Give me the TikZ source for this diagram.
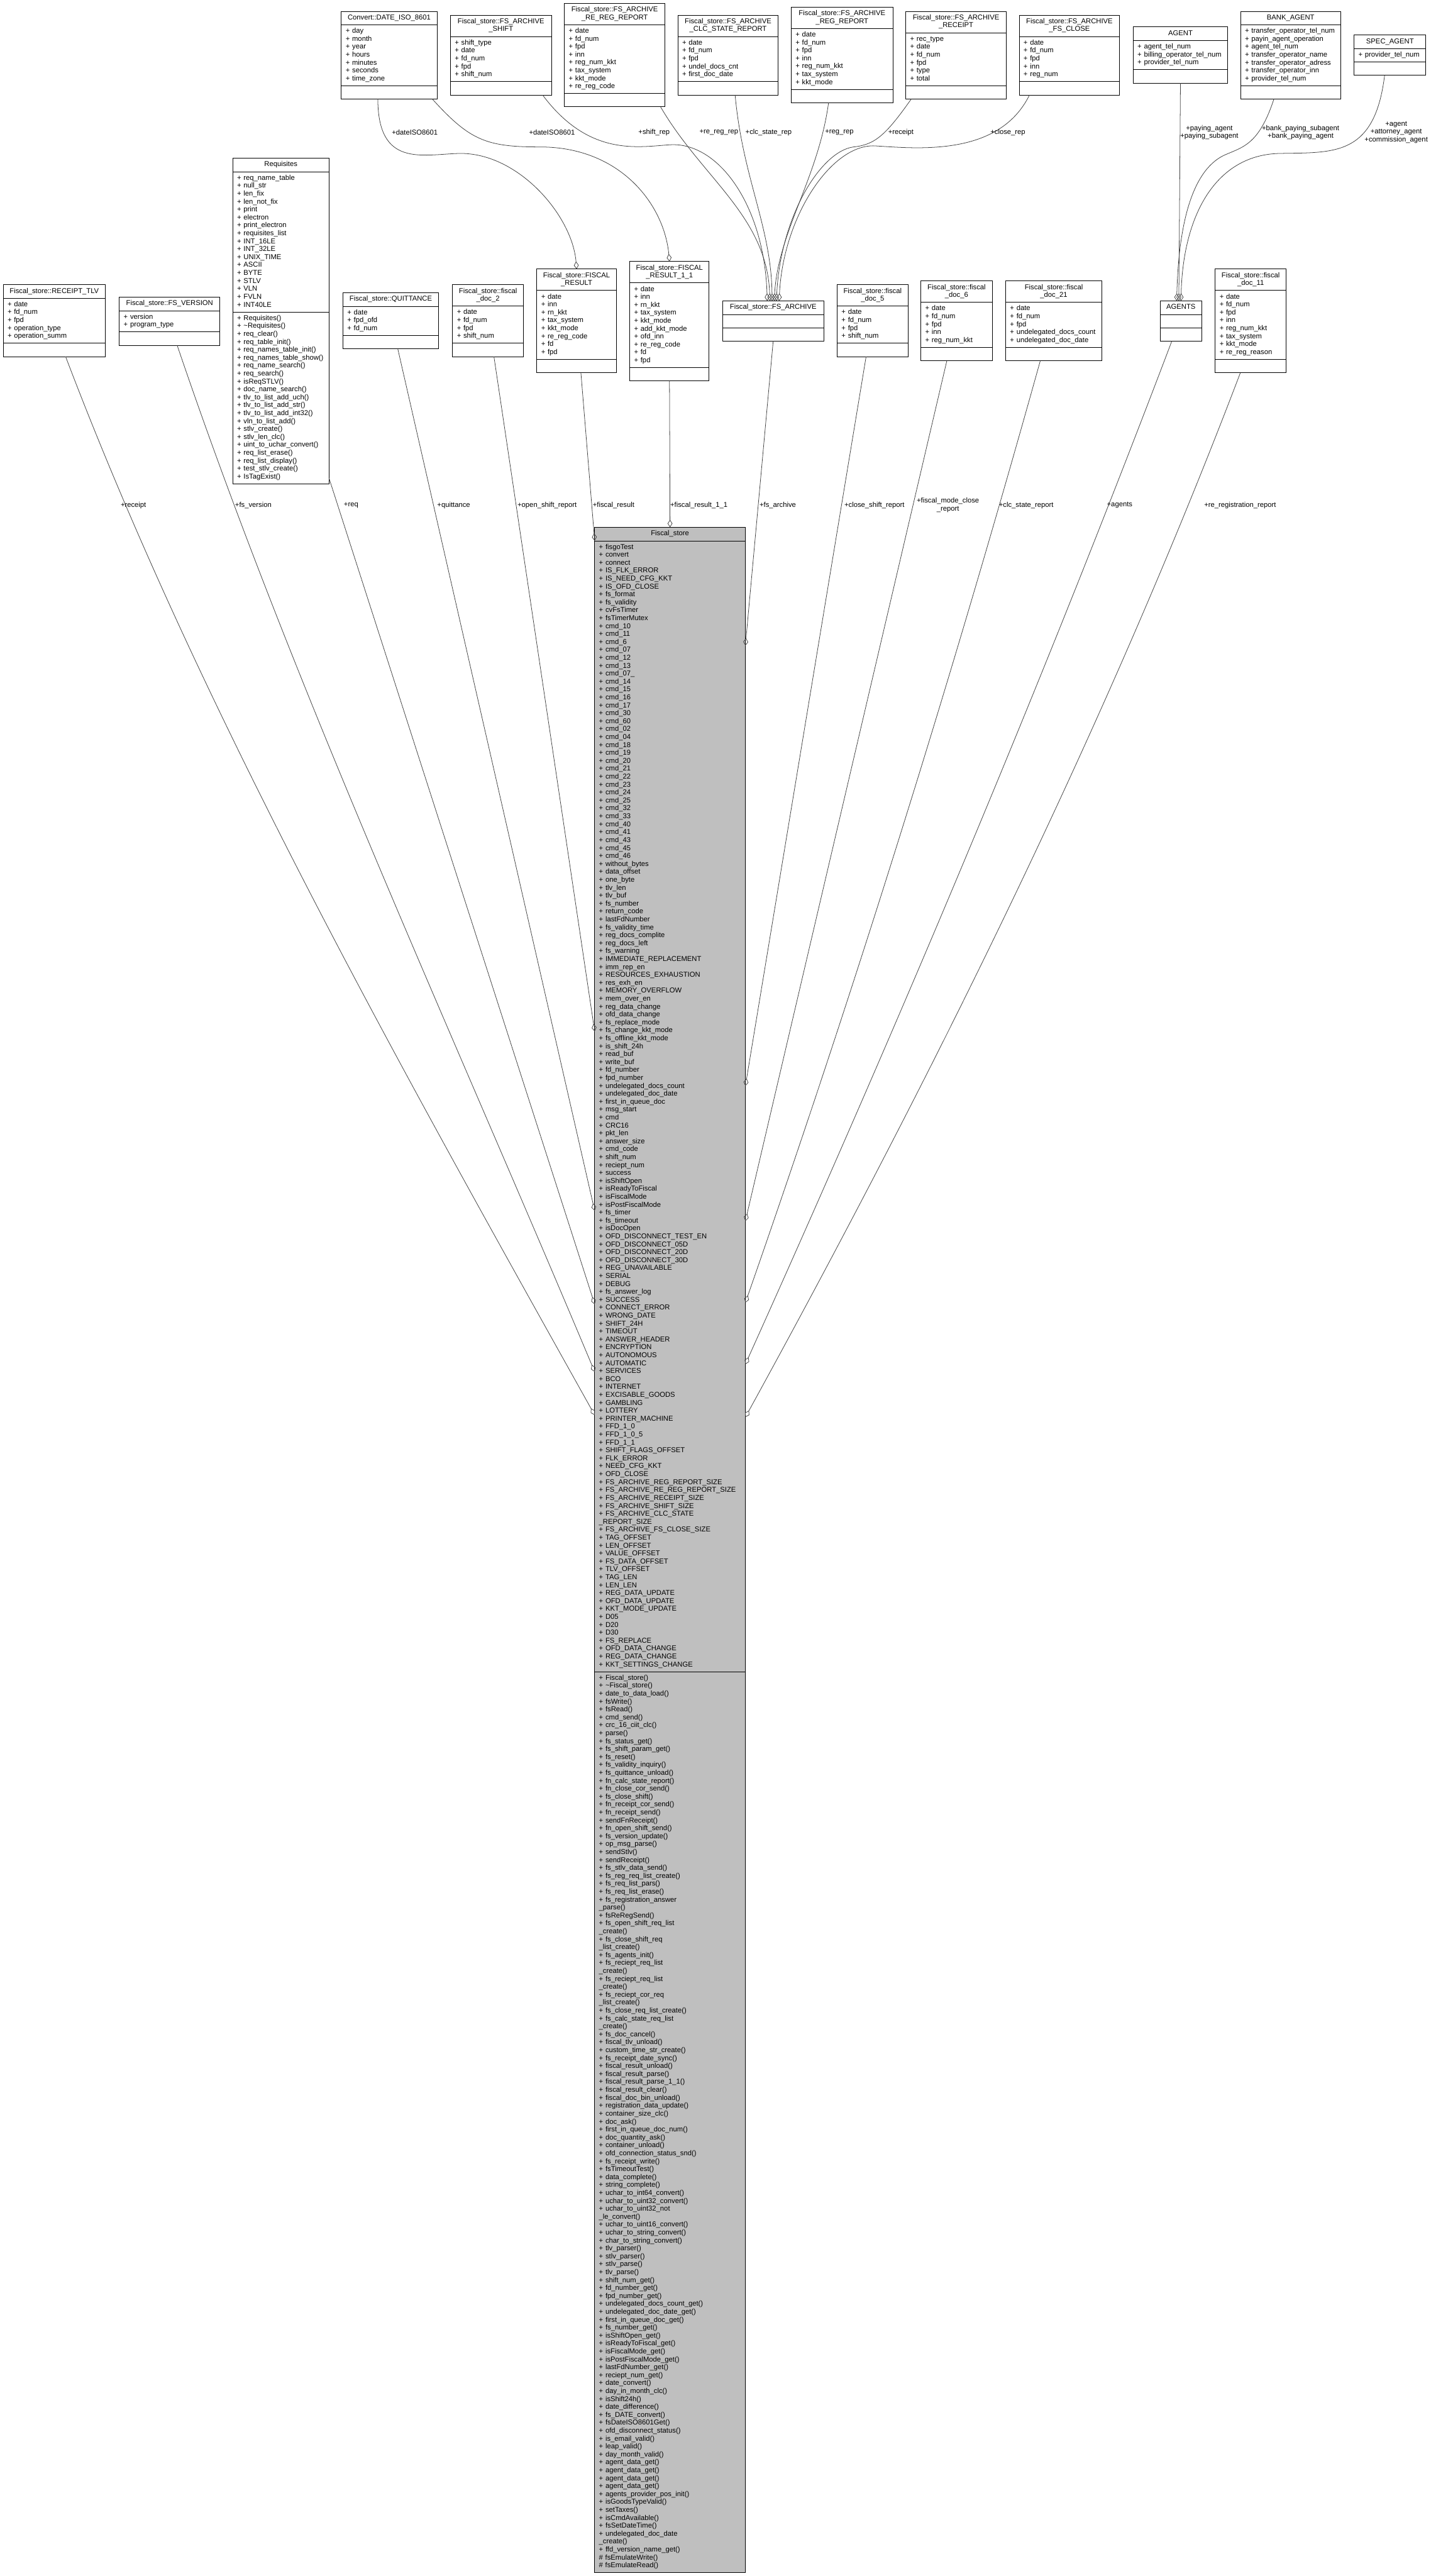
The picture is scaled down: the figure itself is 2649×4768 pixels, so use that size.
\documentclass[tikz,border=0pt]{standalone}
\usepackage{fontspec}
\setmainfont{Liberation Sans}
\usetikzlibrary{arrows.meta,positioning}
\newcommand\umlfont{\fontsize{13.1}{14.67}\selectfont}
\tikzset{
  umlpart/.style={draw=black,line width=1.1pt,outer sep=0pt,inner xsep=8pt,inner ysep=5pt,
    font=\umlfont,align=left,
    execute at begin node={\hyphenpenalty=10000\exhyphenpenalty=10000\strut},
    execute at end node=\strut},
  umltitle/.style={umlpart,align=center,inner ysep=5.2pt},
  agg/.style={-{Diamond[open,length=14pt,width=9pt]},draw=black!75,line width=0.9pt},
  rel/.style={font=\umlfont,align=center,inner sep=0pt},
}
% class box: title, attributes, methods stacked
\newcommand\umlbox[7][]{%
  \pgfmathsetmacro\umlw{#4-16}%
  \node[umltitle,#1,text width=\umlw pt,anchor=north west] (#2) at (#3) {#5};
  \node[umlpart,#1,text width=\umlw pt,below=0pt of #2] (#2-a) {#6};
  \node[umlpart,#1,text width=\umlw pt,below=0pt of #2-a] (#2-m) {#7};
}

\begin{document}
\catcode`\_=12
\begin{tikzpicture}[x=1pt,y=-1pt]
  \useasboundingbox (0,0) rectangle (2649,4768);
  % top row
  \umlbox{datecv}{632,21}{177}{Convert::DATE_ISO_8601}{+ day\\+ month\\+ year\\+ hours\\+ minutes\\+ seconds\\+ time_zone}{}
  \umlbox{arshift}{834,28}{187}{Fiscal_store::FS_ARCHIVE\\_SHIFT}{+ shift_type\\+ date\\+ fd_num\\+ fpd\\+ shift_num}{}
  \umlbox{arrereg}{1045,6}{186}{Fiscal_store::FS_ARCHIVE\\_RE_REG_REPORT}{+ date\\+ fd_num\\+ fpd\\+ inn\\+ reg_num_kkt\\+ tax_system\\+ kkt_mode\\+ re_reg_code}{}
  \umlbox{arclc}{1255,28}{186}{Fiscal_store::FS_ARCHIVE\\_CLC_STATE_REPORT}{+ date\\+ fd_num\\+ fpd\\+ undel_docs_cnt\\+ first_doc_date}{}
  \umlbox{arreg}{1465,13}{188}{Fiscal_store::FS_ARCHIVE\\_REG_REPORT}{+ date\\+ fd_num\\+ fpd\\+ inn\\+ reg_num_kkt\\+ tax_system\\+ kkt_mode}{}
  \umlbox{arreceipt}{1677,21}{186}{Fiscal_store::FS_ARCHIVE\\_RECEIPT}{+ rec_type\\+ date\\+ fd_num\\+ fpd\\+ type\\+ total}{}
  \umlbox{arclose}{1887,28}{186}{Fiscal_store::FS_ARCHIVE\\_FS_CLOSE}{+ date\\+ fd_num\\+ fpd\\+ inn\\+ reg_num}{}
  \umlbox{agent}{2098,50}{175}{AGENT}{+ agent_tel_num\\+ billing_operator_tel_num\\+ provider_tel_num}{}
  \umlbox{bankagent}{2297,21}{185}{BANK_AGENT}{+ transfer_operator_tel_num\\+ payin_agent_operation\\+ agent_tel_num\\+ transfer_operator_name\\+ transfer_operator_adress\\+ transfer_operator_inn\\+ provider_tel_num}{}
  \umlbox{specagent}{2507,65}{133}{SPEC_AGENT}{+ provider_tel_num}{}
  % middle row
  \umlbox{receipttlv}{6,527}{189}{Fiscal_store::RECEIPT_TLV}{+ date\\+ fd_num\\+ fpd\\+ operation_type\\+ operation_summ}{}
  \umlbox{fsversion}{221,550}{186}{Fiscal_store::FS_VERSION}{+ version\\+ program_type}{}
  \umlbox{requisites}{431,293}{178}{Requisites}{+ req_name_table\\+ null_str\\+ len_fix\\+ len_not_fix\\+ print\\+ electron\\+ print_electron\\+ requisites_list\\+ INT_16LE\\+ INT_32LE\\+ UNIX_TIME\\+ ASCII\\+ BYTE\\+ STLV\\+ VLN\\+ FVLN\\+ INT40LE}{+ Requisites()\\+ \textasciitilde Requisites()\\+ req_clear()\\+ req_table_init()\\+ req_names_table_init()\\+ req_names_table_show()\\+ req_name_search()\\+ req_search()\\+ isReqSTLV()\\+ doc_name_search()\\+ tlv_to_list_add_uch()\\+ tlv_to_list_add_str()\\+ tlv_to_list_add_int32()\\+ vln_to_list_add()\\+ stlv_create()\\+ stlv_len_clc()\\+ uint_to_uchar_convert()\\+ req_list_erase()\\+ req_list_display()\\+ test_stlv_create()\\+ IsTagExist()}
  \umlbox{quittance}{635,542}{177}{Fiscal_store::QUITTANCE}{+ date\\+ fpd_ofd\\+ fd_num}{}
  \umlbox{doc2}{838,527}{131}{Fiscal_store::fiscal\\_doc_2}{+ date\\+ fd_num\\+ fpd\\+ shift_num}{}
  \umlbox{fresult}{994,498}{147}{Fiscal_store::FISCAL\\_RESULT}{+ date\\+ inn\\+ rn_kkt\\+ tax_system\\+ kkt_mode\\+ re_reg_code\\+ fd\\+ fpd}{}
  \umlbox{fresult11}{1166,484}{147}{Fiscal_store::FISCAL\\_RESULT_1_1}{+ date\\+ inn\\+ rn_kkt\\+ tax_system\\+ kkt_mode\\+ add_kkt_mode\\+ ofd_inn\\+ re_reg_code\\+ fd\\+ fpd}{}
  \umlbox{fsarchive}{1338,557}{187}{Fiscal_store::FS_ARCHIVE}{}{}
  \umlbox{doc5}{1550,527}{131}{Fiscal_store::fiscal\\_doc_5}{+ date\\+ fd_num\\+ fpd\\+ shift_num}{}
  \umlbox{doc6}{1705,520}{132}{Fiscal_store::fiscal\\_doc_6}{+ date\\+ fd_num\\+ fpd\\+ inn\\+ reg_num_kkt}{}
  \umlbox{doc21}{1862,520}{178}{Fiscal_store::fiscal\\_doc_21}{+ date\\+ fd_num\\+ fpd\\+ undelegated_docs_count\\+ undelegated_doc_date}{}
  \umlbox{agents}{2148,557}{77}{AGENTS}{}{}
  \umlbox{doc11}{2250,498}{131}{Fiscal_store::fiscal\\_doc_11}{+ date\\+ fd_num\\+ fpd\\+ inn\\+ reg_num_kkt\\+ tax_system\\+ kkt_mode\\+ re_reg_reason}{}
  % main class
  \umlbox[fill=black!25]{fstore}{1101,976}{279}{Fiscal_store}{+ fisgoTest\\+ convert\\+ connect\\+ IS_FLK_ERROR\\+ IS_NEED_CFG_KKT\\+ IS_OFD_CLOSE\\+ fs_format\\+ fs_validity\\+ cvFsTimer\\+ fsTimerMutex\\+ cmd_10\\+ cmd_11\\+ cmd_6\\+ cmd_07\\+ cmd_12\\+ cmd_13\\+ cmd_07_\\+ cmd_14\\+ cmd_15\\+ cmd_16\\+ cmd_17\\+ cmd_30\\+ cmd_60\\+ cmd_02\\+ cmd_04\\+ cmd_18\\+ cmd_19\\+ cmd_20\\+ cmd_21\\+ cmd_22\\+ cmd_23\\+ cmd_24\\+ cmd_25\\+ cmd_32\\+ cmd_33\\+ cmd_40\\+ cmd_41\\+ cmd_43\\+ cmd_45\\+ cmd_46\\+ without_bytes\\+ data_offset\\+ one_byte\\+ tlv_len\\+ tlv_buf\\+ fs_number\\+ return_code\\+ lastFdNumber\\+ fs_validity_time\\+ reg_docs_complite\\+ reg_docs_left\\+ fs_warning\\+ IMMEDIATE_REPLACEMENT\\+ imm_rep_en\\+ RESOURCES_EXHAUSTION\\+ res_exh_en\\+ MEMORY_OVERFLOW\\+ mem_over_en\\+ reg_data_change\\+ ofd_data_change\\+ fs_replace_mode\\+ fs_change_kkt_mode\\+ fs_offline_kkt_mode\\+ is_shift_24h\\+ read_buf\\+ write_buf\\+ fd_number\\+ fpd_number\\+ undelegated_docs_count\\+ undelegated_doc_date\\+ first_in_queue_doc\\+ msg_start\\+ cmd\\+ CRC16\\+ pkt_len\\+ answer_size\\+ cmd_code\\+ shift_num\\+ reciept_num\\+ success\\+ isShiftOpen\\+ isReadyToFiscal\\+ isFiscalMode\\+ isPostFiscalMode\\+ fs_timer\\+ fs_timeout\\+ isDocOpen\\+ OFD_DISCONNECT_TEST_EN\\+ OFD_DISCONNECT_05D\\+ OFD_DISCONNECT_20D\\+ OFD_DISCONNECT_30D\\+ REG_UNAVAILABLE\\+ SERIAL\\+ DEBUG\\+ fs_answer_log\\+ SUCCESS\\+ CONNECT_ERROR\\+ WRONG_DATE\\+ SHIFT_24H\\+ TIMEOUT\\+ ANSWER_HEADER\\+ ENCRYPTION\\+ AUTONOMOUS\\+ AUTOMATIC\\+ SERVICES\\+ BCO\\+ INTERNET\\+ EXCISABLE_GOODS\\+ GAMBLING\\+ LOTTERY\\+ PRINTER_MACHINE\\+ FFD_1_0\\+ FFD_1_0_5\\+ FFD_1_1\\+ SHIFT_FLAGS_OFFSET\\+ FLK_ERROR\\+ NEED_CFG_KKT\\+ OFD_CLOSE\\+ FS_ARCHIVE_REG_REPORT_SIZE\\+ FS_ARCHIVE_RE_REG_REPORT_SIZE\\+ FS_ARCHIVE_RECEIPT_SIZE\\+ FS_ARCHIVE_SHIFT_SIZE\\+ FS_ARCHIVE_CLC_STATE\\_REPORT_SIZE\\+ FS_ARCHIVE_FS_CLOSE_SIZE\\+ TAG_OFFSET\\+ LEN_OFFSET\\+ VALUE_OFFSET\\+ FS_DATA_OFFSET\\+ TLV_OFFSET\\+ TAG_LEN\\+ LEN_LEN\\+ REG_DATA_UPDATE\\+ OFD_DATA_UPDATE\\+ KKT_MODE_UPDATE\\+ D05\\+ D20\\+ D30\\+ FS_REPLACE\\+ OFD_DATA_CHANGE\\+ REG_DATA_CHANGE\\+ KKT_SETTINGS_CHANGE}{+ Fiscal_store()\\+ \textasciitilde Fiscal_store()\\+ date_to_data_load()\\+ fsWrite()\\+ fsRead()\\+ cmd_send()\\+ crc_16_ciit_clc()\\+ parse()\\+ fs_status_get()\\+ fs_shift_param_get()\\+ fs_reset()\\+ fs_validity_inquiry()\\+ fs_quittance_unload()\\+ fn_calc_state_report()\\+ fn_close_cor_send()\\+ fs_close_shift()\\+ fn_receipt_cor_send()\\+ fn_receipt_send()\\+ sendFnReceipt()\\+ fn_open_shift_send()\\+ fs_version_update()\\+ op_msg_parse()\\+ sendStlv()\\+ sendReceipt()\\+ fs_stlv_data_send()\\+ fs_reg_req_list_create()\\+ fs_req_list_pars()\\+ fs_req_list_erase()\\+ fs_registration_answer\\_parse()\\+ fsReRegSend()\\+ fs_open_shift_req_list\\_create()\\+ fs_close_shift_req\\_list_create()\\+ fs_agents_init()\\+ fs_reciept_req_list\\_create()\\+ fs_reciept_req_list\\_create()\\+ fs_reciept_cor_req\\_list_create()\\+ fs_close_req_list_create()\\+ fs_calc_state_req_list\\_create()\\+ fs_doc_cancel()\\+ fiscal_tlv_unload()\\+ custom_time_str_create()\\+ fs_receipt_date_sync()\\+ fiscal_result_unload()\\+ fiscal_result_parse()\\+ fiscal_result_parse_1_1()\\+ fiscal_result_clear()\\+ fiscal_doc_bin_unload()\\+ registration_data_update()\\+ container_size_clc()\\+ doc_ask()\\+ first_in_queue_doc_num()\\+ doc_quantity_ask()\\+ container_unload()\\+ ofd_connection_status_snd()\\+ fs_receipt_write()\\+ fsTimeoutTest()\\+ data_complete()\\+ string_complete()\\+ uchar_to_int64_convert()\\+ uchar_to_uint32_convert()\\+ uchar_to_uint32_not\\_le_convert()\\+ uchar_to_uint16_convert()\\+ uchar_to_string_convert()\\+ char_to_string_convert()\\+ tlv_parser()\\+ stlv_parser()\\+ stlv_parse()\\+ tlv_parse()\\+ shift_num_get()\\+ fd_number_get()\\+ fpd_number_get()\\+ undelegated_docs_count_get()\\+ undelegated_doc_date_get()\\+ first_in_queue_doc_get()\\+ fs_number_get()\\+ isShiftOpen_get()\\+ isReadyToFiscal_get()\\+ isFiscalMode_get()\\+ isPostFiscalMode_get()\\+ lastFdNumber_get()\\+ reciept_num_get()\\+ date_convert()\\+ day_in_month_clc()\\+ isShift24h()\\+ date_difference()\\+ fs_DATE_convert()\\+ fsDateISO8601Get()\\+ ofd_disconnect_status()\\+ is_email_valid()\\+ leap_valid()\\+ day_month_valid()\\+ agent_data_get()\\+ agent_data_get()\\+ agent_data_get()\\+ agent_data_get()\\+ agents_provider_pos_init()\\+ isGoodsTypeValid()\\+ setTaxes()\\+ isCmdAvailable()\\+ fsSetDateTime()\\+ undelegated_doc_date\\_create()\\+ ffd_version_name_get()\\\# fsEmulateWrite()\\\# fsEmulateRead()}

  % connectors from the top row
  \draw[agg] ([xshift=-21pt]datecv-m.south) .. controls (700,310) and (780,286) .. (850,284) .. controls (960,282) and (1060,400) .. (fresult.north);
  \draw[agg] ([xshift=80pt]datecv-m.south) .. controls (870,260) and (900,272) .. (1000,272) .. controls (1150,272) and (1230,380) .. (fresult11.north);
  \draw[agg] ([xshift=77pt]arshift-m.south) .. controls (1090,290) and (1180,272) .. (1240,268) .. controls (1330,262) and (1415,380) .. ([xshift=-11pt]fsarchive.north);
  \draw[agg] ([xshift=85pt]arrereg-m.south) .. controls (1300,330) and (1420,400) .. ([xshift=-6pt]fsarchive.north);
  \draw[agg] ([xshift=13pt]arclc-m.south) .. controls (1375,330) and (1428,420) .. ([xshift=-2pt]fsarchive.north);
  \draw[agg] ([xshift=-25pt]arreg-m.south) .. controls (1515,330) and (1440,430) .. ([xshift=2pt]fsarchive.north);
  \draw[agg] ([xshift=-83pt]arreceipt-m.south) .. controls (1640,250) and (1620,268) .. (1580,272) .. controls (1520,280) and (1445,400) .. ([xshift=6pt]fsarchive.north);
  \draw[agg] ([xshift=-74pt]arclose-m.south) .. controls (1850,290) and (1700,275) .. (1620,270) .. controls (1540,266) and (1450,400) .. ([xshift=11pt]fsarchive.north);
  \draw[agg] (agent-m.south) -- ([xshift=-4pt]agents.north);
  \draw[agg] ([xshift=-31pt]bankagent-m.south) .. controls (2330,270) and (2300,272) .. (2265,288) .. controls (2205,318) and (2182,420) .. ([xshift=-8pt]agents.north);
  \draw[agg] ([xshift=-10pt]specagent-m.south) .. controls (2545,290) and (2470,282) .. (2370,284) .. controls (2250,286) and (2190,400) .. (agents.north);
  \node[rel] (l-date1) at (768,245) {+dateISO8601};
  \node[rel] (l-date2) at (1022,245) {+dateISO8601};
  \node[rel] (l-shift) at (1211,245) {+shift_rep};
  \node[rel] (l-rereg) at (1331,245) {+re_reg_rep};
  \node[rel] (l-clc) at (1423,245) {+clc_state_rep};
  \node[rel] (l-reg) at (1554,245) {+reg_rep};
  \node[rel] (l-receipt) at (1668,245) {+receipt};
  \node[rel] (l-close) at (1866,245) {+close_rep};
  \node[rel] (l-paying) at (2239,245) {+paying_agent\\+paying_subagent};
  \node[rel] (l-bank) at (2408,245) {+bank_paying_subagent\\+bank_paying_agent};
  \node[rel] (l-spec) at (2585,245) {+agent\\+attorney_agent\\+commission_agent};

  % connectors into Fiscal_store
  \draw[agg] ([xshift=21pt]receipttlv-m.south) .. controls (370,1314) and (736,1966) .. ([yshift=-1618pt]fstore-a.north west);
  \draw[agg] ([xshift=14pt]fsversion-m.south) .. controls (543,1273) and (835,1905) .. ([yshift=-1538pt]fstore-a.north west);
  \draw[agg] ([yshift=11pt]requisites-m.south east) -- ([yshift=-1413pt]fstore-a.north west);
  \draw[agg] ([xshift=13pt]quittance-m.south) -- ([yshift=-1240pt]fstore-a.north west);
  \draw[agg] ([xshift=11pt]doc2-m.south) -- ([yshift=-908pt]fstore-a.north west);
  \draw[agg] ([xshift=8pt]fresult-m.south) -- (fstore-a.north west);
  \draw[agg] (fresult11-m.south) -- (fstore.north);
  \draw[agg] (fsarchive-m.south) -- ([yshift=-194pt]fstore-a.north east);
  \draw[agg] ([xshift=-12pt]doc5-m.south) -- ([yshift=-1009pt]fstore-a.north east);
  \draw[agg] ([xshift=-18pt]doc6-m.south) -- ([yshift=-1259pt]fstore-a.north east);
  \draw[agg] ([xshift=-25pt]doc21-m.south) .. controls (1764,1249) and (1583,1830) .. ([yshift=-1410pt]fstore-a.north east);
  \draw[agg] ([xshift=-17pt]agents-m.south) .. controls (1930,1263) and (1664,1894) .. ([yshift=-1524pt]fstore-a.north east);
  \draw[agg] ([xshift=-19pt]doc11-m.south) .. controls (2051,1335) and (1734,1978) .. ([yshift=-1622pt]fstore-a.north east);
  \node[rel] (l-receipttlv) at (247,935) {+receipt};
  \node[rel] (l-fsversion) at (469,935) {+fs_version};
  \node[rel] (l-req) at (650,935) {+req};
  \node[rel] (l-quittance) at (840,935) {+quittance};
  \node[rel] (l-openshift) at (1013,935) {+open_shift_report};
  \node[rel] (l-fresult) at (1136,935) {+fiscal_result};
  \node[rel] (l-fresult11) at (1294,935) {+fiscal_result_1_1};
  \node[rel] (l-fsarchive) at (1440,935) {+fs_archive};
  \node[rel] (l-closeshift) at (1619,935) {+close_shift_report};
  \node[rel] (l-modeclose) at (1755,935) {+fiscal_mode_close\\_report};
  \node[rel] (l-clcstate) at (1900,935) {+clc_state_report};
  \node[rel] (l-agents) at (2073,935) {+agents};
  \node[rel] (l-rereg2) at (2296,935) {+re_registration_report};
\end{tikzpicture}
\end{document}
